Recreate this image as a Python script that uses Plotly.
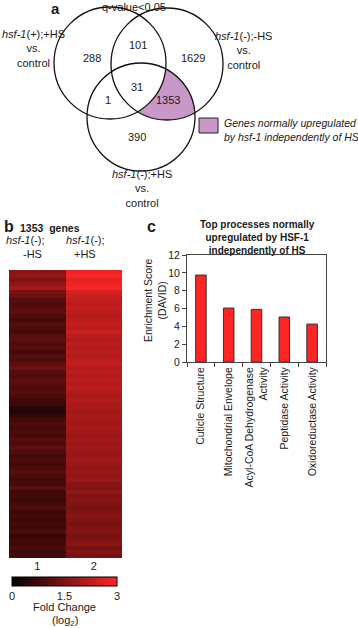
import math
import numpy as np
import plotly.graph_objects as go

W, H = 358, 628
FONT = "Liberation Sans, Arial, sans-serif"
INK = "#1a1a1a"
PURPLE = "#c998c9"

# ---------------- data ----------------
venn_set_labels = ["<i>hsf-1</i>(+);+HS<br>vs.<br>control",
                   "<i>hsf-1</i>(-);-HS<br>vs.<br>control",
                   "<i>hsf-1</i>(-);+HS<br>vs.<br>control"]
venn_counts = [288, 101, 1629, 31, 1, 1353, 390]   # A, AB, B, ABC, AC, BC, C
heat_col_labels = ["1", "2"]
heat_minus_hs = [1.6, 1.7, 1.5, 1.7, 2.0, 1.4, 1.3,
                 1.0, 0.9, 1.0, 1.1, 0.9, 0.8, 1.0, 0.9, 0.8, 1.0, 1.1, 0.9, 1.0,
                 0.8, 1.0, 0.9, 1.1, 1.3, 1.0, 0.9, 1.1, 1.0, 0.9, 1.0, 0.9, 0.8,
                 0.7, 0.5, 0.4, 0.6,
                 0.8, 0.9, 0.8, 0.9, 0.8, 1.0, 0.9, 1.1, 0.9, 0.8, 0.9, 0.8, 0.9,
                 1.0, 0.9, 0.8,
                 0.8, 1.1, 0.7, 0.8, 0.7, 0.8, 0.9, 0.7, 0.8, 0.7, 0.8, 0.7, 0.9,
                 0.6, 0.8, 0.7, 0.9, 0.7, 0.8]
heat_plus_hs = [2.8, 2.9, 2.7, 2.8, 2.9,
                2.5, 2.4, 2.3,
                2.2, 2.3, 2.2, 2.1, 2.2, 2.3, 2.2, 2.4, 2.2, 2.1, 2.2, 2.1, 2.2,
                2.1, 2.2, 2.3, 2.1, 2.2, 2.1, 2.2, 2.1, 2.2, 2.1, 2.0, 2.1,
                2.0, 2.0, 1.9, 2.0, 1.9, 1.9, 2.0, 1.9, 1.8, 1.9, 1.8, 1.9, 1.8,
                1.8, 1.9, 1.8, 1.7, 1.8, 1.7, 1.8,
                1.6, 1.5, 1.7, 1.5, 1.6, 1.5, 1.4, 1.5, 1.6, 1.5, 1.4, 1.5, 1.5,
                1.4, 1.5, 1.6, 1.4, 1.5, 1.4]
cbar_ticks = [0, 1.5, 3]
process_names = ["Cuticle Structure", "Mitochondrial Envelope",
                 "Acyl-CoA Dehydrogenase<br>Activity", "Peptidase Activity",
                 "Oxidoreductase Activity"]
enrichment = [9.75, 6.05, 5.9, 5.05, 4.25]
y_ticks = [0, 2, 4, 6, 8, 10, 12]


def px(x):
    return x / W


def py(y):
    return 1 - y / H


fig = go.Figure()

# ---------------- heatmap (panel b) ----------------
z = [[a, b] for a, b in zip(heat_minus_hs, heat_plus_hs)]
fig.add_trace(go.Heatmap(
    z=z, x=[1, 2], y=list(range(len(z))),
    zmin=0, zmax=3,
    colorscale=[[0, "#000000"], [1, "#ff2626"]],
    xaxis="x", yaxis="y", hoverinfo="skip",
    colorbar=dict(orientation="h", x=px(64.5), xanchor="center",
                  y=py(577), yanchor="top", yref="paper",
                  len=105, lenmode="pixels", thickness=9,
                  xpad=0, ypad=0, outlinecolor="black", outlinewidth=1,
                  tickvals=cbar_ticks, ticktext=["0", "1.5", "3"], ticks="",
                  tickfont=dict(family=FONT, size=11, color=INK)),
))

# ---------------- bar chart (panel c) ----------------
fig.add_trace(go.Bar(
    x=process_names, y=enrichment, xaxis="x2", yaxis="y2",
    marker=dict(color="#ff2424", line=dict(color="#333333", width=1)),
    width=0.38, hoverinfo="skip",
))

# pixel-space axis for the Venn diagram and labels
fig.add_trace(go.Scatter(x=[0], y=[0], xaxis="x3", yaxis="y3", mode="markers",
                         marker=dict(opacity=0), hoverinfo="skip", showlegend=False))

# ---------------- Venn geometry ----------------
C_L = (110.0, 63.0, 56.0)
C_R = (167.0, 64.0, 56.0)
C_B = (141.0, 117.0, 54.0)


def dist(p, c):
    return math.hypot(p[0] - c[0], p[1] - c[1])


def inter(c1, c2):
    x1, y1, r1 = c1
    x2, y2, r2 = c2
    d = math.hypot(x2 - x1, y2 - y1)
    a = (r1 ** 2 - r2 ** 2 + d ** 2) / (2 * d)
    h = math.sqrt(max(r1 ** 2 - a ** 2, 0))
    xm = x1 + a * (x2 - x1) / d
    ym = y1 + a * (y2 - y1) / d
    return [(xm + h * (y2 - y1) / d, ym - h * (x2 - x1) / d),
            (xm - h * (y2 - y1) / d, ym + h * (x2 - x1) / d)]


def arc(c, pa, pb, test, n=40):
    cx, cy, r = c
    a1 = math.atan2(pa[1] - cy, pa[0] - cx)
    a2 = math.atan2(pb[1] - cy, pb[0] - cx)
    for sgn in (1, -1):
        d = (a2 - a1) % (2 * math.pi) if sgn == 1 else -((a1 - a2) % (2 * math.pi))
        am = a1 + d / 2
        pm = (cx + r * math.cos(am), cy + r * math.sin(am))
        if test(pm):
            return [(cx + r * math.cos(a1 + d * t), cy + r * math.sin(a1 + d * t))
                    for t in np.linspace(0, 1, n)]
    return []


P1 = [p for p in inter(C_R, C_B) if dist(p, C_L) > C_L[2]][0]
P2 = [p for p in inter(C_L, C_B) if dist(p, C_R) < C_R[2]][0]
P3 = [p for p in inter(C_L, C_R) if dist(p, C_B) < C_B[2]][0]
pts = arc(C_R, P3, P1, lambda p: dist(p, C_L) > C_L[2] and dist(p, C_B) < C_B[2])
pts += arc(C_B, P1, P2, lambda p: dist(p, C_L) > C_L[2] and dist(p, C_R) < C_R[2])
pts += arc(C_L, P2, P3, lambda p: dist(p, C_R) < C_R[2] and dist(p, C_B) < C_B[2])
path = "M " + " L ".join(f"{x:.2f},{y:.2f}" for x, y in pts) + " Z"

shapes = [dict(type="path", path=path, xref="x3", yref="y3",
               fillcolor=PURPLE, line=dict(width=0), layer="below")]
for cx, cy, r in (C_L, C_R, C_B):
    shapes.append(dict(type="circle", xref="x3", yref="y3",
                       x0=cx - r, x1=cx + r, y0=cy - r, y1=cy + r,
                       line=dict(color="#111111", width=1.3), fillcolor="rgba(0,0,0,0)"))
shapes.append(dict(type="rect", xref="x3", yref="y3", x0=199, x1=218, y0=118, y1=133,
                   fillcolor=PURPLE, line=dict(color="#222222", width=1)))

ann = []


def text(x, y, t, size=11, bold=False, xanchor="center", angle=0, align="center"):
    if bold:
        t = f"<b>{t}</b>"
    ann.append(dict(x=x, y=y, xref="x3", yref="y3", text=t, showarrow=False,
                    xanchor=xanchor, yanchor="middle", textangle=angle, align=align,
                    font=dict(family=FONT, size=size, color=INK)))


# panel a text
text(55, 8, "a", size=15, bold=True)
text(134, 7, "q-value<0.05", size=11)
count_pos = [(92, 58), (138, 45), (193, 58), (137, 87), (108, 100), (168, 100), (137, 137)]
for (x, y), v in zip(count_pos, venn_counts):
    text(x, y, str(v), size=11)
text(33, 48, venn_set_labels[0], size=11)
text(243, 50, venn_set_labels[1], size=11)
text(142, 188, venn_set_labels[2], size=11)
text(222, 123, "<i>Genes normally upregulated</i>", size=10.5, xanchor="left")
text(222, 137, "<i>by hsf-1 independently of HS</i>", size=10.5, xanchor="left")

# panel b text
text(9, 226, "b", size=16, bold=True)
text(50, 228, "1353\u00a0\u00a0genes", size=10.5, bold=True)
text(25, 240, "<i>hsf-1</i>(-);", size=11)
text(32, 254, "-HS", size=11)
text(85, 240, "<i>hsf-1</i>(-);", size=11)
text(85, 254, "+HS", size=11)
text(64.5, 607, "Fold Change", size=11)
text(64.5, 621, "(log<sub>2</sub>)", size=11)

# panel c text
text(151, 226, "c", size=16, bold=True)
text(257, 237, "Top processes normally<br>upregulated by HSF-1<br>independently of HS",
     size=10, bold=True)
text(155, 300, "Enrichment Score<br>(DAVID)", size=10.5, angle=-90)

fig.update_layout(
    width=W, height=H, margin=dict(l=0, r=0, t=0, b=0, autoexpand=False),
    paper_bgcolor="white", plot_bgcolor="rgba(0,0,0,0)", showlegend=False,
    font=dict(family=FONT, size=11, color=INK),
    xaxis=dict(domain=[px(9), px(122)], range=[0.5, 2.5], tickvals=[1, 2],
               ticktext=heat_col_labels, showgrid=False, zeroline=False, ticks="",
               showline=False, tickfont=dict(size=11), anchor="y", fixedrange=True,
               automargin=False),
    yaxis=dict(domain=[py(558), py(270)], autorange="reversed", visible=False,
               anchor="x", fixedrange=True, automargin=False),
    xaxis2=dict(domain=[px(187), px(326)], anchor="y2", type="category",
                tickson="boundaries", ticks="outside", ticklen=4, tickcolor="#444",
                showline=True, linecolor="#444", linewidth=1, mirror=True,
                tickangle=-90, tickfont=dict(size=10.5), showgrid=False,
                fixedrange=True, automargin=False),
    yaxis2=dict(domain=[py(362), py(255)], anchor="x2", range=[0, 12],
                tickvals=y_ticks, ticks="outside", ticklen=4, tickcolor="#444",
                showline=True, linecolor="#444", linewidth=1, mirror=True,
                showgrid=False, zeroline=False, tickfont=dict(size=10.5),
                fixedrange=True, automargin=False),
    xaxis3=dict(domain=[0, 1], range=[0, W], visible=False, anchor="y3",
                fixedrange=True, automargin=False),
    yaxis3=dict(domain=[0, 1], range=[H, 0], visible=False, anchor="x3",
                fixedrange=True, automargin=False),
    shapes=shapes, annotations=ann,
)

fig.write_html("out.html", config={"displayModeBar": False},
               post_script="document.body.style.margin='0';document.body.style.overflow='hidden';")
